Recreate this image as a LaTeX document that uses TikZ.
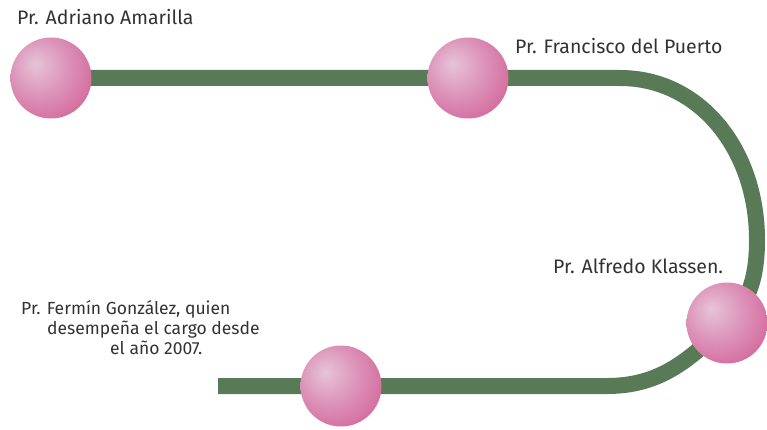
\documentclass[tikz,border=0pt]{standalone}
\usepackage{fontspec}
\setmainfont{Fira Sans}
\definecolor{trackgreen}{RGB}{88,122,86}
\definecolor{textgray}{RGB}{50,50,50}
\definecolor{pinklight}{RGB}{230,196,216}
\definecolor{pinkmid}{RGB}{220,146,184}
\definecolor{pinkdark}{RGB}{206,80,138}
\pgfdeclareradialshading{pinkball}{\pgfpoint{-10bp}{9bp}}{color(0bp)=(pinklight); color(18bp)=(pinkmid); color(44bp)=(pinkdark); color(70bp)=(pinkdark)}
\begin{document}
\begin{tikzpicture}[x=1pt,y=-1pt,
  track/.style={draw=trackgreen,line width=16pt},
  ball/.style={circle,minimum size=81pt,inner sep=0pt,shade,shading=pinkball},
  pastor/.style={text=textgray,font=\fontsize{19.5}{20}\selectfont,inner sep=0pt,anchor=base west}]
\useasboundingbox (0,0) rectangle (767,430);
% stops on the line
\coordinate (p1) at (51,78);
\coordinate (p2) at (468,78);
\coordinate (p3) at (727,323);
\coordinate (p4) at (341,386);
\coordinate (topbend) at (620,78);
\coordinate (farright) at (757,240);
\coordinate (lowbend) at (607,386);
\coordinate (tail) at (218,386);
% the line
\draw[track] (p1) -- (p2) -- (topbend)
  .. controls (700,78) and (757,150) .. (farright)
  .. controls (757,285) and (745,305) .. (p3)
  .. controls (690,360) and (660,386) .. (lowbend) -- (p4) -- (tail);
% the balls
\node[ball] (adriano) at (p1) {};
\node[ball] (francisco) at (p2) {};
\node[ball] (alfredo) at (p3) {};
\node[ball] (fermin) at (p4) {};
% names
\node[pastor] (adrianotxt) at (17,25) {Pr. Adriano Amarilla};
\node[pastor] (franciscotxt) at (515,54) {Pr. Francisco del Puerto};
\node[pastor] (alfredotxt) at (553,273) {Pr. Alfredo Klassen.};
\node[pastor,font=\fontsize{17.5}{20}\selectfont,align=left] (fermintxt) at (21,354) {Pr. Fermín González, quien\\
  \hspace*{26pt}desempeña el cargo desde\\
  \hspace*{89pt}el año 2007.};
\end{tikzpicture}
\end{document}
